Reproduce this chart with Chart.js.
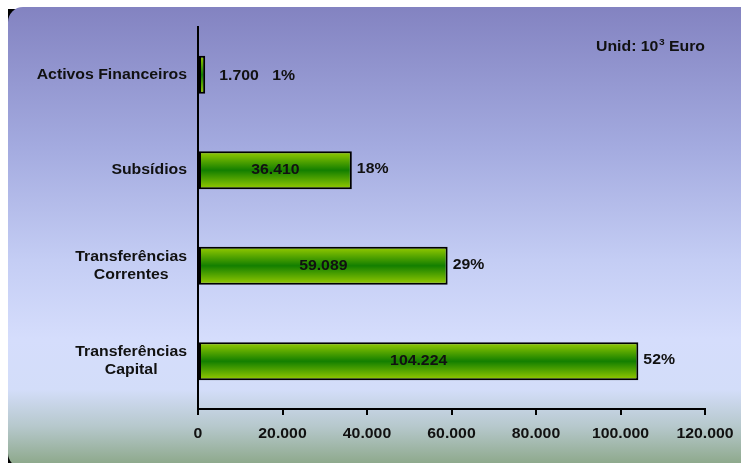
<!DOCTYPE html>
<html><head><meta charset="utf-8">
<script src="https://cdn.jsdelivr.net/npm/chart.js@4.4.1/dist/chart.umd.min.js"></script>
<style>html,body{margin:0;padding:0;background:#fff;overflow:hidden}#wrap{width:741px;height:463px;position:relative}</style>
</head><body><div id="wrap"><canvas id="c" width="741" height="463"></canvas></div>
<script>
const categories = [["Activos Financeiros"], ["Subsídios"], ["Transferências", "Correntes"], ["Transferências", "Capital"]];
const values = [1700, 36410, 59089, 104224];
const valueLabels = ["1.700", "36.410", "59.089", "104.224"];
const percentLabels = ["1%", "18%", "29%", "52%"];
const xMin = 0, xMax = 120000, xStep = 20000;
const unitText = "Unid: 10³ Euro";

const FAMILY = "'Liberation Sans', Arial, sans-serif";
const FONT = "bold 14px " + FAMILY;
const SX = 1.13; // horizontal stretch of the reference lettering
const fmt = v => String(v).replace(/\B(?=(\d{3})+(?!\d))/g, '.');

function drawText(ctx, text, x, y, align) {
  ctx.save();
  ctx.translate(x, y);
  ctx.scale(SX, 1);
  ctx.textAlign = align;
  ctx.fillText(text, 0, 0);
  ctx.restore();
}

const bgPlugin = {
  id: 'bg',
  beforeDraw(chart) {
    const ctx = chart.ctx;
    ctx.save();
    ctx.fillStyle = '#ffffff';
    ctx.fillRect(0, 0, chart.width, chart.height);
    ctx.fillStyle = '#000000';
    ctx.fillRect(8, 9, 800, 500);
    const x = 8, y = 7, w = 800, h = 461, r = 15;
    ctx.beginPath();
    ctx.moveTo(x + r, y);
    ctx.lineTo(x + w, y);
    ctx.lineTo(x + w, y + h);
    ctx.lineTo(x + r, y + h);
    ctx.arcTo(x, y + h, x, y + h - r, r);
    ctx.lineTo(x, y + r);
    ctx.arcTo(x, y, x + r, y, r);
    ctx.closePath();
    const g = ctx.createLinearGradient(0, y, 0, y + h);
    g.addColorStop(0, '#8383c1');
    g.addColorStop(0.3, '#a3aadf');
    g.addColorStop(0.55, '#c4cdf4');
    g.addColorStop(0.72, '#d5ddfc');
    g.addColorStop(0.83, '#d3ddf9');
    g.addColorStop(0.91, '#b6c8cc');
    g.addColorStop(1, '#89a584');
    ctx.fillStyle = g;
    ctx.fill();
    ctx.restore();
  },
  afterDraw(chart) {
    const ctx = chart.ctx;
    const ys = chart.scales.y;
    const xs = chart.scales.x;
    const meta = chart.getDatasetMeta(0);
    ctx.save();
    ctx.font = FONT;
    ctx.fillStyle = '#111111';
    ctx.textBaseline = 'middle';
    // category labels (block right-aligned, lines centered)
    const right = 187;
    categories.forEach((lines, i) => {
      const yc = ys.getPixelForValue(i);
      const maxW = Math.max(...lines.map(l => ctx.measureText(l).width)) * SX;
      const cx = right - maxW / 2;
      const lh = 18;
      lines.forEach((l, j) => {
        drawText(ctx, l, cx, yc + (j - (lines.length - 1) / 2) * lh, 'center');
      });
    });
    // x tick labels from the library's ticks
    xs.ticks.forEach(t => {
      drawText(ctx, fmt(t.value), xs.getPixelForValue(t.value), 434, 'center');
    });
    // value and percent labels
    meta.data.forEach((bar, i) => {
      const vw = ctx.measureText(valueLabels[i]).width * SX;
      const bw = bar.x - bar.base;
      if (bw < vw + 12) {
        drawText(ctx, valueLabels[i], bar.x + 14, bar.y + 1, 'left');
        drawText(ctx, percentLabels[i], bar.x + 67, bar.y + 1, 'left');
      } else {
        drawText(ctx, valueLabels[i], (bar.x + bar.base) / 2, bar.y, 'center');
        drawText(ctx, percentLabels[i], bar.x + 5, bar.y - 1, 'left');
      }
    });
    // unit note
    drawText(ctx, "Unid: 10", 596, 47, 'left');
    const w1 = ctx.measureText("Unid: 10").width * SX;
    ctx.font = "bold 9px " + FAMILY;
    drawText(ctx, "3", 596 + w1 + 0.5, 43, 'left');
    const w2 = ctx.measureText("3").width * SX;
    ctx.font = FONT;
    drawText(ctx, " Euro", 596 + w1 + w2 + 0.5, 47, 'left');
    ctx.restore();
  }
};

new Chart(document.getElementById('c'), {
  type: 'bar',
  data: {
    labels: categories.map(c => c.join(' ')),
    datasets: [{
      data: values,
      borderColor: '#000000',
      borderWidth: 2,
      borderSkipped: false,
      categoryPercentage: 1,
      barPercentage: 0.4,
      backgroundColor: (c) => {
        const chart = c.chart;
        const ys = chart.scales && chart.scales.y;
        const ca = chart.chartArea;
        if (!ca || !ys || c.dataIndex === undefined) return '#4a9a00';
        const yc = ys.getPixelForValue(c.dataIndex);
        const h = (ca.bottom - ca.top) / values.length * 0.4 / 2;
        const g = chart.ctx.createLinearGradient(0, yc - h, 0, yc + h);
        g.addColorStop(0, '#9acd00');
        g.addColorStop(0.5, '#137f00');
        g.addColorStop(1, '#9acd00');
        return g;
      }
    }]
  },
  options: {
    indexAxis: 'y',
    responsive: false,
    animation: false,
    devicePixelRatio: 1,
    layout: { padding: { left: 8, right: 36, top: 27, bottom: 0 } },
    plugins: { legend: { display: false }, tooltip: { enabled: false } },
    scales: {
      x: {
        type: 'linear',
        min: xMin, max: xMax,
        afterFit(s) { s.height = 54; },
        afterUpdate(s) { },
        ticks: {
          stepSize: xStep,
          color: 'rgba(0,0,0,0)',
          font: { family: FAMILY, size: 14, weight: 'bold' },
          padding: 10,
          maxRotation: 0,
          callback: v => fmt(v)
        },
        grid: { drawOnChartArea: false, drawTicks: true, tickLength: 6, color: '#000000', lineWidth: 2 },
        border: { display: true, color: '#000000', width: 2 }
      },
      y: {
        type: 'category',
        afterFit(s) { s.width = 190; },
        ticks: { display: false },
        grid: { drawOnChartArea: false, drawTicks: false },
        border: { display: true, color: '#000000', width: 2 }
      }
    }
  },
  plugins: [bgPlugin]
});
</script>
</body></html>
